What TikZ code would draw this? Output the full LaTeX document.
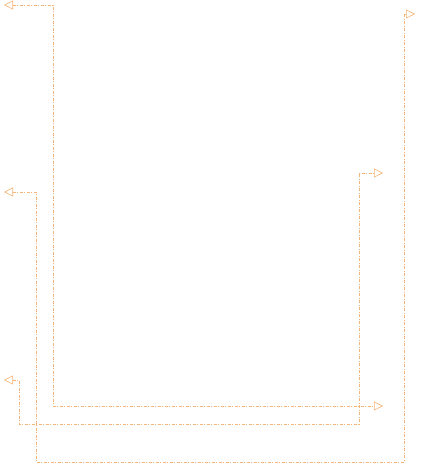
\documentclass[tikz,border=0pt]{standalone}
\usetikzlibrary{arrows.meta}
\definecolor{wire}{HTML}{F5B577}
\begin{document}
\begin{tikzpicture}[x=1pt,y=-1pt,
  conn/.style={draw=wire, line width=0.6pt, dash pattern=on 3pt off 1.5pt on 1pt off 1.5pt,
    {Triangle[open,length=9pt,width=9pt,line width=0.6pt]}-{Triangle[open,length=9pt,width=9pt,line width=0.6pt]}}]
\useasboundingbox (0,0) rectangle (421,469);
% endpoints
\coordinate (a1) at (4,5);
\coordinate (a2) at (383,406);
\coordinate (b1) at (4,192);
\coordinate (b2) at (415,14);
\coordinate (c1) at (4,380);
\coordinate (c2) at (383,173);
% connectors
\draw[conn] (a1) -- (53,5) -- (53,406) -- (a2);
\draw[conn] (b1) -- (36,192) -- (36,462) -- (404,462) -- (404,14) -- (b2);
\draw[conn] (c1) -- (19,380) -- (19,424) -- (359,424) -- (359,173) -- (c2);
\end{tikzpicture}
\end{document}
